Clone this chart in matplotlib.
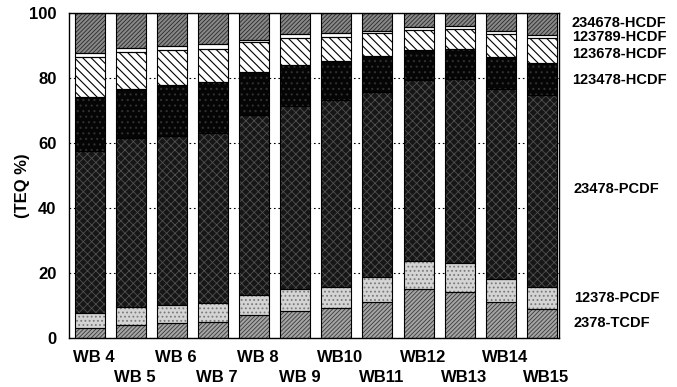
import matplotlib
matplotlib.use("Agg")
import matplotlib.pyplot as plt
import numpy as np

plt.rcParams['font.family'] = ['Liberation Sans', 'DejaVu Sans']
plt.rcParams['font.weight'] = 'bold'
plt.rcParams['hatch.linewidth'] = 0.7

samples = ["WB 4", "WB 5", "WB 6", "WB 7", "WB 8", "WB 9",
           "WB10", "WB11", "WB12", "WB13", "WB14", "WB15"]

tcdf_2378   = [2.9, 4.1, 4.5, 4.8, 7.1, 8.2, 9.1, 10.9, 15.0, 14.2, 10.9, 8.9]
pcdf_12378  = [4.8, 5.3, 5.5, 5.8, 6.2, 6.8, 6.5, 7.8, 8.7, 8.7, 7.2, 6.8]
pcdf_23478  = [49.8, 52.1, 52.1, 52.4, 55.2, 56.4, 57.7, 57.0, 55.7, 56.6, 58.4, 59.0]
hcdf_123478 = [16.5, 15.2, 15.7, 15.6, 13.4, 12.6, 11.8, 11.0, 9.2, 9.4, 9.9, 9.8]
hcdf_123678 = [12.4, 11.3, 10.8, 10.3, 9.0, 8.2, 7.6, 7.0, 6.2, 6.1, 7.2, 7.7]
hcdf_123789 = [1.3, 1.2, 1.1, 1.4, 0.8, 1.3, 1.2, 0.8, 0.8, 1.0, 0.9, 0.9]
hcdf_234678 = [12.3, 10.8, 10.3, 9.7, 8.3, 6.5, 6.1, 5.5, 4.4, 4.0, 5.5, 6.9]

layer_names = ["2378-TCDF", "12378-PCDF", "23478-PCDF", "123478-HCDF",
               "123678-HCDF", "123789-HCDF", "234678-HCDF"]
layers = [tcdf_2378, pcdf_12378, pcdf_23478, hcdf_123478,
          hcdf_123678, hcdf_123789, hcdf_234678]

# (facecolor, hatch, hatch colour, hatch linewidth)
styles = [
    ('#a4a4a4', '////////', '#3a3a3a', 0.6),
    ('#d4d4d4', '....', '#7a7a7a', 0.8),
    ('#161616', 'xxxx', '#505050', 0.6),
    ('#050505', '...', '#303030', 0.8),
    ('#ffffff', '\\\\\\\\', '#000000', 0.8),
    ('#ffffff', None, '#000000', 0.8),
    ('#888888', '////////', '#2a2a2a', 0.6),
]

fig = plt.figure(figsize=(6.77, 3.87), dpi=100)
ax = fig.add_axes([0.102, 0.127, 0.724, 0.840])

x = np.arange(len(samples))
width = 0.73

ax.set_axisbelow(True)
ax.yaxis.grid(True, color='black', linestyle=(0, (1.5, 2.5)), linewidth=0.8)

bottom = np.zeros(len(samples))
for vals, (fc, hatch, hc, hlw) in zip(layers, styles):
    vals = np.asarray(vals)
    with plt.rc_context({'hatch.linewidth': hlw}):
        bars = ax.bar(x, vals, width, bottom=bottom, facecolor=fc,
                      edgecolor=hc, linewidth=0, hatch=hatch, zorder=2)
        for b in bars:
            if hasattr(b, 'set_hatch_linewidth'):
                b.set_hatch_linewidth(hlw)
    ax.bar(x, vals, width, bottom=bottom, fill=False, edgecolor='black',
           linewidth=0.8, zorder=3)
    bottom = bottom + vals

ax.set_xlim(-0.5, len(samples) - 0.58)
ax.set_ylim(0, 100)
ax.set_yticks([0, 20, 40, 60, 80, 100])
ax.set_yticklabels(["0", "20", "40", "60", "80", "100"], fontsize=12,
                   fontweight='bold')
ax.tick_params(axis='y', length=0, pad=9)
ax.set_xticks([])
for s in ax.spines.values():
    s.set_linewidth(1.0)

fig.text(23 / 677, 1 - 186 / 387, "(TEQ %)", rotation=90, ha='center',
         va='center', fontsize=12, fontweight='bold')

# staggered sample labels
trans = ax.get_xaxis_transform()
for i, name in enumerate(samples):
    yoff = -0.060 if i % 2 == 0 else -0.123
    ax.text(x[i] + 0.1, yoff, name, transform=trans, ha='center', va='center',
            fontsize=12, fontweight='bold', clip_on=False)

# right-side layer labels
label_y = {"234678-HCDF": 23, "123789-HCDF": 37, "123678-HCDF": 54,
           "123478-HCDF": 80, "23478-PCDF": 189, "12378-PCDF": 298,
           "2378-TCDF": 323}
for name in layer_names[::-1]:
    xx = 572 if 'HCDF' in name else 574
    fig.text(xx / 677, 1 - label_y[name] / 387, name, ha='left',
             va='center', fontsize=10.5, fontweight='bold')

fig.savefig("out.png", dpi=100, facecolor='white')
